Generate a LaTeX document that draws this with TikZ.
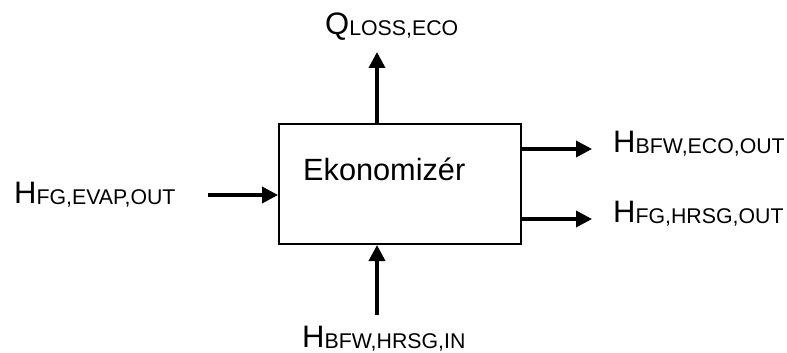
\documentclass[tikz,border=0pt]{standalone}
\usepackage{fontspec}
\setmainfont{Liberation Sans}
\usetikzlibrary{arrows.meta,positioning}

% label with a lowered subscript
\newcommand{\flowlbl}[2]{{\fontsize{31}{33}\selectfont #1}{\fontsize{21.3}{23}\selectfont\raisebox{-1pt}{#2}}}

\tikzset{
  flow/.style={line width=3.6pt, -{Triangle[length=16pt,width=16pt]}},
  lbl/.style={anchor=base west, inner sep=0pt},
}

\begin{document}
\begin{tikzpicture}[x=1pt, y=-1pt]
    \useasboundingbox (0,0) rectangle (787,353);

    % Block
    \node[draw, line width=2pt, minimum width=242pt, minimum height=120pt, inner sep=0pt] (eco) at (400,184) {};
    \node[lbl, font=\fontsize{30.7}{33}\selectfont] (ecotxt) at (303,180) {Ekonomizér};

    % Labels
    \node[lbl] (qloss) at (325,35) {\flowlbl{Q}{LOSS,ECO}};
    \node[lbl] (fgin) at (14,203) {\flowlbl{H}{FG,EVAP,OUT}};
    \node[lbl] (bfwout) at (613,152) {\flowlbl{H}{BFW,ECO,OUT}};
    \node[lbl] (fgout) at (613,222) {\flowlbl{H}{FG,HRSG,OUT}};
    \node[lbl] (bfwin) at (302,347) {\flowlbl{H}{BFW,HRSG,IN}};

    % Arrow ends
    \coordinate (qtip) at (377,52);
    \coordinate (fgtail) at (208,195);
    \coordinate (bfwtip) at (592,149);
    \coordinate (fgtip) at (592,219);
    \coordinate (bfwtail) at (377,315);

    % Flows
    \draw[flow] (qtip |- eco.north) -- (qtip);
    \draw[flow] (fgtail) -- (fgtail -| eco.west);
    \draw[flow] (bfwtip -| eco.east) -- (bfwtip);
    \draw[flow] (fgtip -| eco.east) -- (fgtip);
    \draw[flow] (bfwtail) -- (bfwtail |- eco.south);
\end{tikzpicture}
\end{document}
